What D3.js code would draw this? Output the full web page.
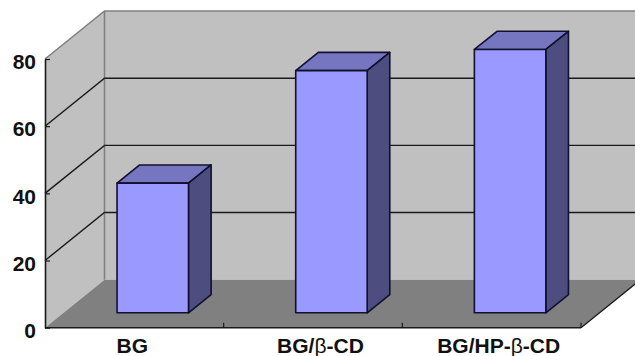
<!DOCTYPE html>
<html>
<head>
<meta charset="utf-8">
<script src="https://cdn.jsdelivr.net/npm/d3@7/dist/d3.min.js"></script>
<style>
  html, body { margin: 0; padding: 0; background: #fff; }
  svg { display: block; }
  text { font-family: "Liberation Sans", Arial, sans-serif; font-weight: 700; fill: #111; }
</style>
</head>
<body>
<svg id="chart" width="635" height="356"></svg>
<script>
// Chart data
const categories = ["BG", "BG/β-CD", "BG/HP-β-CD"];
const values = [38.6, 72.1, 78.4];
const yTicks = [0, 20, 40, 60, 80];

// Category labels sit slightly off their band centres
const labelShift = [-2, 7.5, 7];

const width = 635, height = 356;
const plot = { left: 45, right: 581, top: 59, bottom: 327.7 };
const depth = { dx: 59.5, dy: -48 };
const barDepth = [0.31, 0.69];

const x = d3.scaleBand().domain(categories)
  .range([plot.left, plot.right]).paddingInner(0.6).paddingOuter(0.3);
const y = d3.scaleLinear().domain([0, 80]).range([plot.bottom, plot.top]);

// Oblique projection: depth 0 is the front plane, depth 1 the back wall
const px = (xv, d) => xv + depth.dx * d;
const py = (v, d) => y(v) + depth.dy * d;
const pt = (xv, v, d) => [px(xv, d), py(v, d)];
const poly = d3.line();

const svg = d3.select("#chart");

// Walls and floor
svg.append("path").attr("fill", "#c0c0c0")
  .attr("d", poly([pt(plot.left, 0, 0), pt(plot.left, 80, 0), pt(plot.left, 80, 1), pt(plot.left, 0, 1)]) + "Z");
svg.append("path").attr("fill", "#c0c0c0")
  .attr("d", poly([pt(plot.left, 0, 1), pt(plot.left, 80, 1), pt(plot.right + 60, 80, 1), pt(plot.right + 60, 0, 1)]) + "Z");
svg.append("path").attr("fill", "#808080")
  .attr("d", poly([pt(plot.left, 0, 0), pt(plot.right, 0, 0), pt(plot.right, 0, 1), pt(plot.left, 0, 1)]) + "Z");

// Wall edges
svg.append("path").attr("fill", "none").attr("stroke", "#808080").attr("stroke-width", 1.6)
  .attr("d", poly([pt(plot.left, 80, 0), pt(plot.left, 80, 1), pt(plot.right + 60, 80, 1)]));
svg.append("path").attr("fill", "none").attr("stroke", "#808080").attr("stroke-width", 1.6)
  .attr("d", poly([pt(plot.left, 80, 1), pt(plot.left, 0, 1)]));

// Gridlines along the side wall and across the back wall
const inner = yTicks.filter(t => t > 0 && t < 80);
svg.append("g").selectAll("path").data(inner).join("path")
  .attr("fill", "none").attr("stroke", "#1a1a1a").attr("stroke-width", 1.4)
  .attr("d", t => poly([pt(plot.left, t, 0), pt(plot.left, t, 1), pt(plot.right + 60, t, 1)]));

// Floor's right edge
svg.append("path").attr("stroke", "#1a1a1a").attr("stroke-width", 1.3)
  .attr("d", poly([pt(plot.right, 0, 0), pt(plot.right, 0, 1)]));

// Bars: top, side, then front face
const bars = svg.append("g").selectAll("g")
  .data(categories.map((c, i) => ({ c, v: values[i] })))
  .join("g")
  .attr("stroke", "#101030").attr("stroke-width", 1.6).attr("stroke-linejoin", "round");

bars.append("path").attr("fill", "#7676c0").attr("d", d => {
  const a = x(d.c), b = a + x.bandwidth();
  return poly([pt(a, d.v, barDepth[0]), pt(b, d.v, barDepth[0]), pt(b, d.v, barDepth[1]), pt(a, d.v, barDepth[1])]) + "Z";
});
bars.append("path").attr("fill", "#4d4d80").attr("d", d => {
  const b = x(d.c) + x.bandwidth();
  return poly([pt(b, 0, barDepth[0]), pt(b, d.v, barDepth[0]), pt(b, d.v, barDepth[1]), pt(b, 0, barDepth[1])]) + "Z";
});
bars.append("path").attr("fill", "#9999ff").attr("d", d => {
  const a = x(d.c), b = a + x.bandwidth();
  return poly([pt(a, 0, barDepth[0]), pt(a, d.v, barDepth[0]), pt(b, d.v, barDepth[0]), pt(b, 0, barDepth[0])]) + "Z";
});

// Value axis with inward ticks
const yAxis = svg.append("g").attr("transform", `translate(${plot.left},0)`)
  .call(d3.axisLeft(y).tickValues(yTicks).tickSize(-5).tickSizeOuter(0).tickPadding(9));
yAxis.attr("font-family", null).attr("font-size", null);
yAxis.select(".domain").attr("stroke", "#1a1a1a").attr("stroke-width", 1.6);
yAxis.selectAll(".tick line").attr("stroke", "#1a1a1a").attr("stroke-width", 1.2);
yAxis.selectAll("text").attr("font-size", 21).attr("dy", "0.46em");

// Category axis: ticks at the band boundaries
const boundaries = categories.map((c, i) => plot.left + x.step() * (i + 1));
svg.append("line").attr("stroke", "#1a1a1a").attr("stroke-width", 1.6)
  .attr("x1", plot.left).attr("x2", plot.right).attr("y1", y(0)).attr("y2", y(0));
svg.append("g").selectAll("line").data(boundaries).join("line")
  .attr("stroke", "#1a1a1a").attr("stroke-width", 1.2)
  .attr("x1", d => d).attr("x2", d => d)
  .attr("y1", y(0)).attr("y2", y(0) - 5);

// Category labels; β is set in a lighter weight, as a symbol glyph
const labels = svg.append("g").selectAll("text").data(categories).join("text")
  .attr("x", (c, i) => plot.left + x.step() * (i + 0.5) + labelShift[i])
  .attr("y", 353)
  .attr("text-anchor", "middle")
  .attr("font-size", 21);
labels.each(function (c) {
  const t = d3.select(this);
  c.split(/(β)/).filter(Boolean).forEach(part => {
    const s = t.append("tspan").text(part);
    if (part === "β") s.style("font-weight", 400);
  });
});
</script>
</body>
</html>
